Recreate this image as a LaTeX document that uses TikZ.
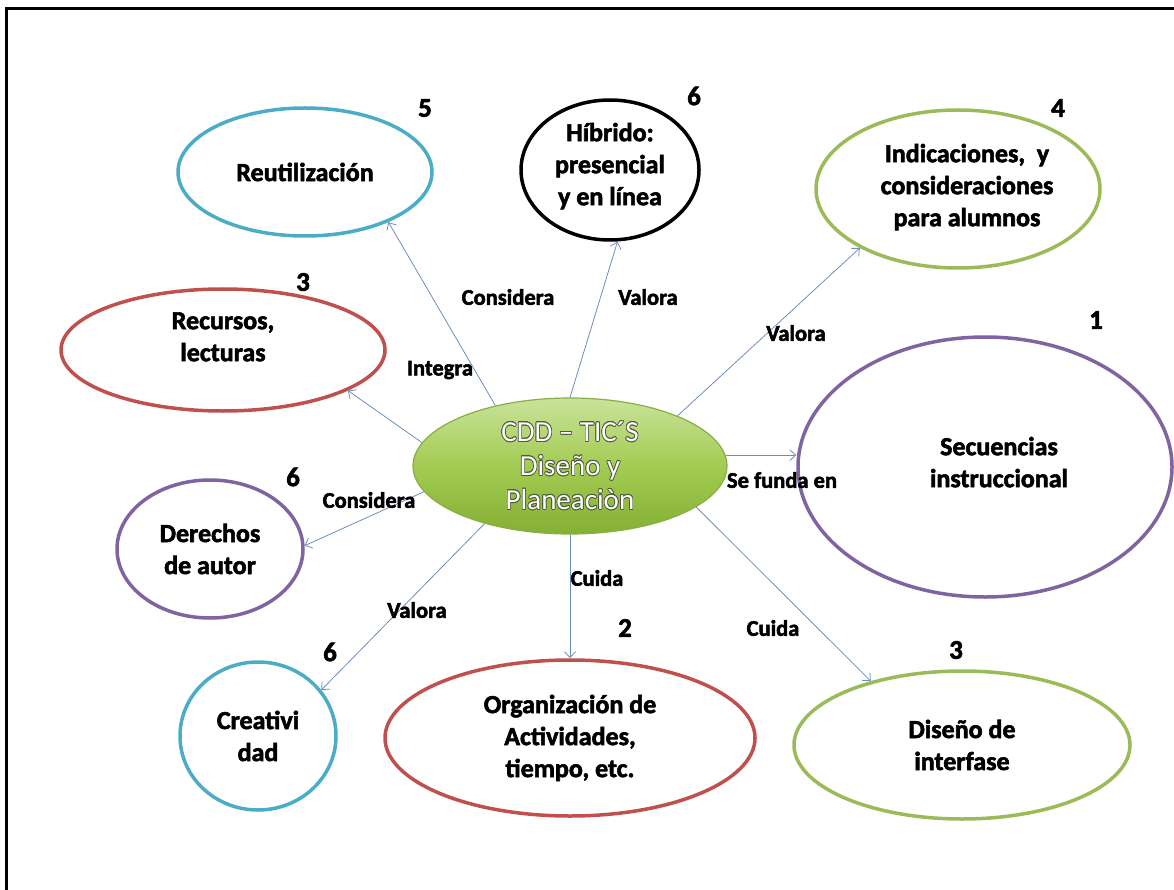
\documentclass[tikz,border=0pt]{standalone}
\usepackage{fontspec}
\setmainfont{Carlito}[BoldFeatures={FakeBold=2.2}]
\usepackage{contour}
\contourlength{0.7pt}
\usetikzlibrary{shapes.geometric,arrows.meta}
\definecolor{cyanO}{HTML}{4BACC6}
\definecolor{redO}{HTML}{C0504D}
\definecolor{greenO}{HTML}{9BBB59}
\definecolor{purpleO}{HTML}{8064A2}
\definecolor{arrowC}{HTML}{6C8EBF}
\definecolor{cTop}{HTML}{C9E39A}
\definecolor{cMid}{HTML}{A3CB52}
\definecolor{cBot}{HTML}{84B034}
\definecolor{cLine}{HTML}{8AAE45}
\definecolor{outlineC}{HTML}{4E5A3A}
\begin{document}
\begin{tikzpicture}[x=1pt,y=-1pt,
  bub/.style={ellipse, draw, line width=3.5pt, inner sep=0pt, align=center,
    font=\bfseries\fontsize{26}{32}\selectfont},
  lbl/.style={font=\bfseries\fontsize{22.5}{26}\selectfont, inner sep=0pt},
  num/.style={font=\bfseries\fontsize{27}{30}\selectfont, inner sep=0pt},
  arr/.style={draw=arrowC, line width=0.8pt,
    -{Straight Barb[length=6pt,width=11pt,line width=0.8pt]}}]
\useasboundingbox (0,0) rectangle (1174,890);
\draw[line width=3pt] (6,890) -- (6,9) -- (1174,9);

% central node
\node[ellipse, draw=cLine, line width=1.2pt, top color=cTop, bottom color=cBot,
  middle color=cMid, minimum width=314pt, minimum height=136pt, inner sep=0pt,
  align=center, text=white, font=\fontsize{29}{34}\selectfont] (c) at (570,466)
  {\contour{outlineC}{CDD – TIC´S}\\ \contour{outlineC}{Diseño y}\\ \contour{outlineC}{Planeaciòn}};

% outer nodes
\node[bub, draw=cyanO, minimum width=254pt, minimum height=128pt] (reu) at (305,172) {Reutilización};
\node[bub, draw=black, minimum width=178pt, minimum height=140pt] (hib) at (610,170)
  {\raisebox{-3pt}[0pt][0pt]{\begin{tabular}{@{}c@{}}Híbrido:\\ presencial\\ y en línea\end{tabular}}};
\node[bub, draw=greenO, minimum width=284pt, minimum height=158pt] (ind) at (958,189)
  {\raisebox{-5pt}[0pt][0pt]{\begin{tabular}{@{}c@{}}\hspace{18pt}Indicaciones,\ \ y\\ \hspace{18pt}consideraciones\\ \hspace{18pt}para alumnos\end{tabular}}};
\node[bub, draw=redO, minimum width=324pt, minimum height=122pt] (rec) at (223,350)
  {\raisebox{5pt}[0pt][0pt]{\begin{tabular}{@{}c@{}}Recursos,\\ lecturas\end{tabular}}};
\node[bub, draw=purpleO, minimum width=374pt, minimum height=260pt] (sec) at (985,467)
  {\raisebox{-4pt}[0pt][0pt]{\begin{tabular}{@{}c@{}}\hspace{28pt}Secuencias\\ \hspace{28pt}instruccional\end{tabular}}};
\node[bub, draw=purpleO, minimum width=186pt, minimum height=138pt] (der) at (210,549) {Derechos\\ de autor};
\node[bub, draw=cyanO, minimum width=156pt, minimum height=148pt] (cre) at (258,736) {Creativi\\ dad};
\node[bub, draw=redO, minimum width=370pt, minimum height=156pt] (org) at (570,738) {Organización de\\ Actividades,\\ tiempo, etc.};
\node[bub, draw=greenO, minimum width=336pt, minimum height=148pt] (dis) at (962,745) {Diseño de\\ interfase};

% connectors
\draw[arr] (c.141) -- (reu.-31);
\draw[arr] (c.90) -- (hib.-84);
\draw[arr] (c.25) -- (ind.211);
\draw[arr] (c.171) -- (rec.-18);
\draw[arr] (c.4) -- (c.4 -| sec.west);
\draw[arr] (c.190) -- (der.2);
\draw[arr] (c.214) -- (cre.36);
\draw[arr] (c.south) -- (org.north);
\draw[arr] (c.-18) -- (dis.145);

% labels
\node[lbl] (l1) at (508,297) {Considera};
\node[lbl] (l2) at (648,297) {Valora};
\node[lbl] (l3) at (440,370) {Integra};
\node[lbl] (l4) at (796,333) {Valora};
\node[lbl] (l5) at (782,480) {Se funda en};
\node[lbl] (l6) at (369,500) {Considera};
\node[lbl] (l7) at (417,610) {Valora};
\node[lbl] (l8) at (597,578) {Cuida};
\node[lbl] (l9) at (773,628) {Cuida};

% numbers
\node[num] (n1) at (425,108) {5};
\node[num] (n2) at (694,96) {6};
\node[num] (n3) at (1058,108) {4};
\node[num] (n4) at (303,282) {3};
\node[num] (n5) at (1096,320) {1};
\node[num] (n6) at (293,477) {6};
\node[num] (n7) at (330,652) {6};
\node[num] (n8) at (625,628) {2};
\node[num] (n9) at (956,650) {3};
\end{tikzpicture}
\end{document}
